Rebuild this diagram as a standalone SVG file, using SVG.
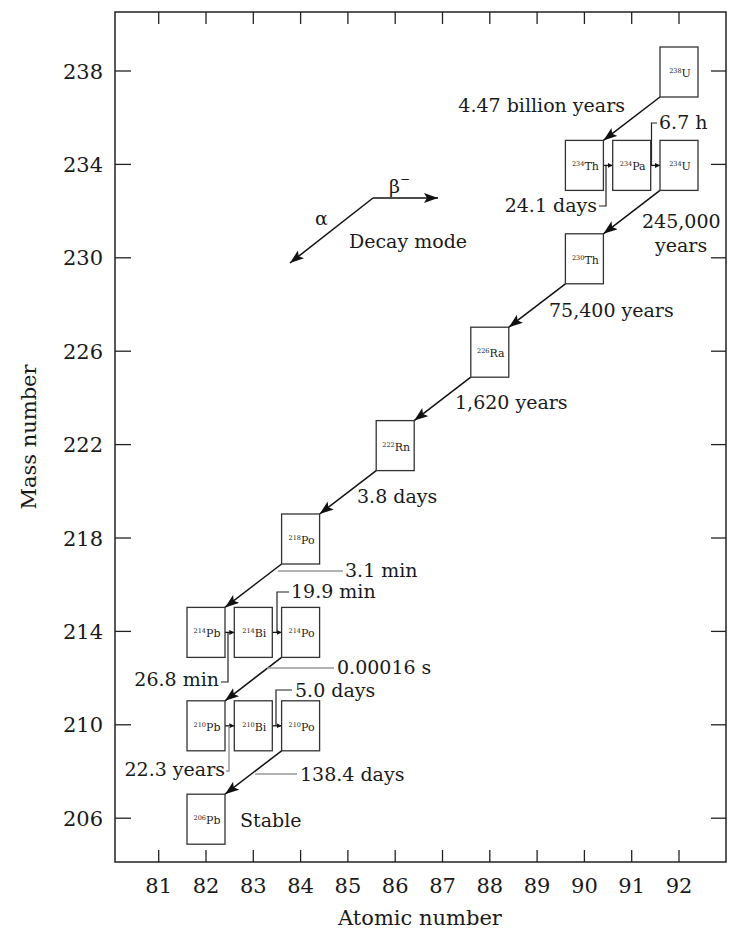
<svg xmlns="http://www.w3.org/2000/svg" width="735" height="939" viewBox="0 0 735 939">
<style>
text{font-family:"DejaVu Serif","Liberation Serif",serif;fill:#1a1a1a}
.ax{font-size:21px}
.lb{font-size:19px}
.nd rect{fill:#fff;stroke:#333;stroke-width:1.3}
.nd text{font-size:11px;text-anchor:middle}
.ms{font-size:6.5px}
.al{stroke:#111;stroke-width:1.5;fill:none;marker-end:url(#ah)}
.bt{stroke:#111;stroke-width:1.3;fill:none;marker-end:url(#sh)}
.ld{stroke:#222;stroke-width:1.2;fill:none}
.lg{stroke:#999;stroke-width:1.5;fill:none}
.tk{stroke:#222;stroke-width:1.3}
</style>
<defs>
<marker id="ah" markerUnits="userSpaceOnUse" markerWidth="16" markerHeight="12" refX="14" refY="5" orient="auto">
<path d="M0,0 L14,5 L0,10 L3,5 z" fill="#111"/>
</marker>
<marker id="sh" markerUnits="userSpaceOnUse" markerWidth="6" markerHeight="6" refX="5" refY="2.5" orient="auto">
<path d="M0,0 L5,2.5 L0,5 z" fill="#111"/>
</marker>
</defs>
<rect width="735" height="939" fill="#fff"/>
<g id="axes">
<rect x="115" y="12" width="611" height="850" fill="none" stroke="#222" stroke-width="1.5"/>
<g class="tk">
<line x1="115" y1="71" x2="131" y2="71"/><line x1="115" y1="164.4" x2="131" y2="164.4"/><line x1="115" y1="257.8" x2="131" y2="257.8"/><line x1="115" y1="351.2" x2="131" y2="351.2"/><line x1="115" y1="444.6" x2="131" y2="444.6"/><line x1="115" y1="538" x2="131" y2="538"/><line x1="115" y1="631.4" x2="131" y2="631.4"/><line x1="115" y1="724.8" x2="131" y2="724.8"/><line x1="115" y1="818.2" x2="131" y2="818.2"/>
<line x1="711" y1="71" x2="726" y2="71"/><line x1="711" y1="164.4" x2="726" y2="164.4"/><line x1="711" y1="257.8" x2="726" y2="257.8"/><line x1="711" y1="351.2" x2="726" y2="351.2"/><line x1="711" y1="444.6" x2="726" y2="444.6"/><line x1="711" y1="538" x2="726" y2="538"/><line x1="711" y1="631.4" x2="726" y2="631.4"/><line x1="711" y1="724.8" x2="726" y2="724.8"/><line x1="711" y1="818.2" x2="726" y2="818.2"/>
<line x1="158.7" y1="12" x2="158.7" y2="24"/><line x1="206" y1="12" x2="206" y2="24"/><line x1="253.3" y1="12" x2="253.3" y2="24"/><line x1="300.6" y1="12" x2="300.6" y2="24"/><line x1="347.9" y1="12" x2="347.9" y2="24"/><line x1="395.2" y1="12" x2="395.2" y2="24"/><line x1="442.5" y1="12" x2="442.5" y2="24"/><line x1="489.8" y1="12" x2="489.8" y2="24"/><line x1="537.1" y1="12" x2="537.1" y2="24"/><line x1="584.4" y1="12" x2="584.4" y2="24"/><line x1="631.7" y1="12" x2="631.7" y2="24"/><line x1="679" y1="12" x2="679" y2="24"/>
<line x1="158.7" y1="850" x2="158.7" y2="862"/><line x1="206" y1="850" x2="206" y2="862"/><line x1="253.3" y1="850" x2="253.3" y2="862"/><line x1="300.6" y1="850" x2="300.6" y2="862"/><line x1="347.9" y1="850" x2="347.9" y2="862"/><line x1="395.2" y1="850" x2="395.2" y2="862"/><line x1="442.5" y1="850" x2="442.5" y2="862"/><line x1="489.8" y1="850" x2="489.8" y2="862"/><line x1="537.1" y1="850" x2="537.1" y2="862"/><line x1="584.4" y1="850" x2="584.4" y2="862"/><line x1="631.7" y1="850" x2="631.7" y2="862"/><line x1="679" y1="850" x2="679" y2="862"/>
</g>
<g class="ax" text-anchor="end">
<text x="103" y="78.5">238</text><text x="103" y="171.9">234</text><text x="103" y="265.3">230</text><text x="103" y="358.7">226</text><text x="103" y="452.1">222</text><text x="103" y="545.5">218</text><text x="103" y="638.9">214</text><text x="103" y="732.3">210</text><text x="103" y="825.7">206</text>
</g>
<g class="ax" text-anchor="middle">
<text x="158.7" y="893">81</text><text x="206" y="893">82</text><text x="253.3" y="893">83</text><text x="300.6" y="893">84</text><text x="347.9" y="893">85</text><text x="395.2" y="893">86</text><text x="442.5" y="893">87</text><text x="489.8" y="893">88</text><text x="537.1" y="893">89</text><text x="584.4" y="893">90</text><text x="631.7" y="893">91</text><text x="679" y="893">92</text>
<text x="420" y="925">Atomic number</text>
<text transform="translate(36,437) rotate(-90)">Mass number</text>
</g>
</g>
<g id="legend">
<line class="al" x1="373" y1="198" x2="438" y2="198"/>
<line class="al" x1="373" y1="198" x2="290" y2="263"/>
<text class="lb" x="389" y="193">β<tspan font-size="12" dy="-10">−</tspan></text>
<text class="lb" x="315" y="225">α</text>
<text class="lb" x="349" y="248">Decay mode</text>
</g>
<g id="connectors">
<line class="al" x1="660" y1="97" x2="603.4" y2="140.4"/>
<line class="al" x1="660" y1="190.4" x2="603.4" y2="233.8"/>
<line class="al" x1="565.4" y1="283.8" x2="508.8" y2="327.2"/>
<line class="al" x1="470.8" y1="377.2" x2="414.2" y2="420.6"/>
<line class="al" x1="376.2" y1="470.6" x2="319.6" y2="514"/>
<line class="al" x1="281.6" y1="564" x2="225" y2="607.4"/>
<line class="al" x1="281.6" y1="657.4" x2="225" y2="700.8"/>
<line class="al" x1="281.6" y1="750.8" x2="225" y2="794.2"/>
<line class="bt" x1="603.4" y1="165.4" x2="612.7" y2="165.4"/>
<line class="bt" x1="650.7" y1="165.4" x2="660" y2="165.4"/>
<line class="bt" x1="225" y1="632.4" x2="234.3" y2="632.4"/>
<line class="bt" x1="272.3" y1="632.4" x2="281.6" y2="632.4"/>
<line class="bt" x1="225" y1="725.8" x2="234.3" y2="725.8"/>
<line class="bt" x1="272.3" y1="725.8" x2="281.6" y2="725.8"/>
<polyline class="ld" points="651.5,165.4 651.5,123 657,123"/>
<polyline class="ld" points="606,165.4 606,206 599,206"/>
<line class="lg" x1="278" y1="571" x2="343" y2="571"/>
<polyline class="ld" points="277,632.4 277,592 289,592"/>
<polyline class="ld" points="228,632.4 228,682 221,682"/>
<line class="lg" x1="267" y1="668" x2="334" y2="668"/>
<polyline class="ld" points="276,725.8 276,690 292,690"/>
<polyline class="lg" points="229,725.8 229,771 226,771"/>
<line class="lg" x1="255" y1="774" x2="297" y2="774"/>
</g>
<g id="labels" class="lb">
<text x="625" y="112" text-anchor="end">4.47 billion years</text>
<text x="659" y="129">6.7 h</text>
<text x="597" y="212" text-anchor="end">24.1 days</text>
<text x="642" y="228">245,000</text>
<text x="655" y="252">years</text>
<text x="549" y="317">75,400 years</text>
<text x="455" y="409">1,620 years</text>
<text x="357" y="503">3.8 days</text>
<text x="345" y="577">3.1 min</text>
<text x="291" y="598">19.9 min</text>
<text x="219" y="686" text-anchor="end">26.8 min</text>
<text x="337" y="674">0.00016 s</text>
<text x="295" y="697">5.0 days</text>
<text x="225" y="776" text-anchor="end">22.3 years</text>
<text x="300" y="781">138.4 days</text>
<text x="240" y="827">Stable</text>
</g>
<g id="U238" class="nd"><rect x="660" y="47" width="38" height="50"/><text x="680" y="77"><tspan class="ms" dy="-4">238</tspan><tspan dy="4">U</tspan></text></g>
<g id="Th234" class="nd"><rect x="565.4" y="140.4" width="38" height="50"/><text x="585.4" y="170.4"><tspan class="ms" dy="-4">234</tspan><tspan dy="4">Th</tspan></text></g>
<g id="Pa234" class="nd"><rect x="612.7" y="140.4" width="38" height="50"/><text x="632.7" y="170.4"><tspan class="ms" dy="-4">234</tspan><tspan dy="4">Pa</tspan></text></g>
<g id="U234" class="nd"><rect x="660" y="140.4" width="38" height="50"/><text x="680" y="170.4"><tspan class="ms" dy="-4">234</tspan><tspan dy="4">U</tspan></text></g>
<g id="Th230" class="nd"><rect x="565.4" y="233.8" width="38" height="50"/><text x="585.4" y="263.8"><tspan class="ms" dy="-4">230</tspan><tspan dy="4">Th</tspan></text></g>
<g id="Ra226" class="nd"><rect x="470.8" y="327.2" width="38" height="50"/><text x="490.8" y="357.2"><tspan class="ms" dy="-4">226</tspan><tspan dy="4">Ra</tspan></text></g>
<g id="Rn222" class="nd"><rect x="376.2" y="420.6" width="38" height="50"/><text x="396.2" y="450.6"><tspan class="ms" dy="-4">222</tspan><tspan dy="4">Rn</tspan></text></g>
<g id="Po218" class="nd"><rect x="281.6" y="514" width="38" height="50"/><text x="301.6" y="544"><tspan class="ms" dy="-4">218</tspan><tspan dy="4">Po</tspan></text></g>
<g id="Pb214" class="nd"><rect x="187" y="607.4" width="38" height="50"/><text x="207" y="637.4"><tspan class="ms" dy="-4">214</tspan><tspan dy="4">Pb</tspan></text></g>
<g id="Bi214" class="nd"><rect x="234.3" y="607.4" width="38" height="50"/><text x="254.3" y="637.4"><tspan class="ms" dy="-4">214</tspan><tspan dy="4">Bi</tspan></text></g>
<g id="Po214" class="nd"><rect x="281.6" y="607.4" width="38" height="50"/><text x="301.6" y="637.4"><tspan class="ms" dy="-4">214</tspan><tspan dy="4">Po</tspan></text></g>
<g id="Pb210" class="nd"><rect x="187" y="700.8" width="38" height="50"/><text x="207" y="730.8"><tspan class="ms" dy="-4">210</tspan><tspan dy="4">Pb</tspan></text></g>
<g id="Bi210" class="nd"><rect x="234.3" y="700.8" width="38" height="50"/><text x="254.3" y="730.8"><tspan class="ms" dy="-4">210</tspan><tspan dy="4">Bi</tspan></text></g>
<g id="Po210" class="nd"><rect x="281.6" y="700.8" width="38" height="50"/><text x="301.6" y="730.8"><tspan class="ms" dy="-4">210</tspan><tspan dy="4">Po</tspan></text></g>
<g id="Pb206" class="nd"><rect x="187" y="794.2" width="38" height="50"/><text x="207" y="824.2"><tspan class="ms" dy="-4">206</tspan><tspan dy="4">Pb</tspan></text></g>
</svg>
